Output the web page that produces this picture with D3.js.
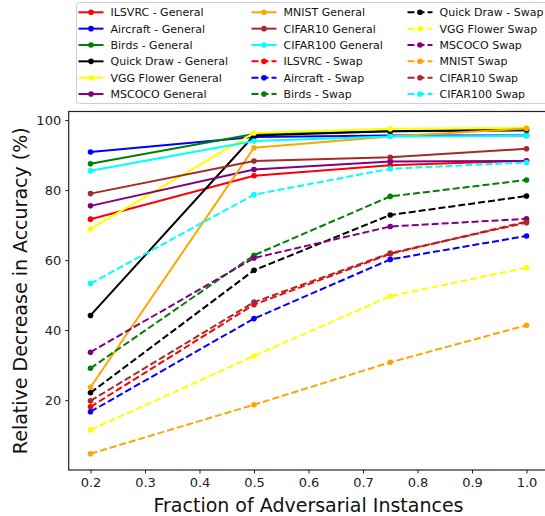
<!DOCTYPE html>
<html>
<head>
<meta charset="utf-8">
<script src="https://cdn.jsdelivr.net/npm/d3@7"></script>
<style>
  body { margin: 0; background: #fff; }
  svg { display: block; font-family: "DejaVu Sans", sans-serif; }
</style>
</head>
<body>
<script>
var fractions = [0.2, 0.5, 0.75, 1.0];
var datasets = ["ILSVRC", "Aircraft", "Birds", "Quick Draw", "VGG Flower", "MSCOCO", "MNIST", "CIFAR10", "CIFAR100"];
var colors = ["red", "blue", "green", "black", "yellow", "purple", "orange", "brown", "cyan"];
var generalNames = ["ILSVRC - General", "Aircraft - General", "Birds - General", "Quick Draw - General",
    "VGG Flower General", "MSCOCO General", "MNIST General", "CIFAR10 General", "CIFAR100 General"];
var swapNames = ["ILSVRC - Swap", "Aircraft - Swap", "Birds - Swap", "Quick Draw - Swap",
    "VGG Flower Swap", "MSCOCO Swap", "MNIST Swap", "CIFAR10 Swap", "CIFAR100 Swap"];

var generalValues = [
    [71.7, 84.1, 87.1, 88.4],
    [90.9, 95.2, 95.6, 95.6],
    [87.5, 96.0, 96.8, 97.0],
    [44.2, 95.6, 96.8, 97.3],
    [68.9, 96.3, 97.5, 97.8],
    [75.5, 85.9, 88.2, 88.3],
    [23.7, 92.1, 95.3, 97.6],
    [79.0, 88.3, 89.4, 91.8],
    [85.5, 94.0, 95.3, 95.5]
];
var swapValues = [
    [18.1, 47.3, 61.8, 71.0],
    [16.7, 43.3, 60.2, 66.9],
    [29.1, 61.4, 78.2, 82.9],
    [22.1, 57.1, 72.9, 78.3],
    [11.5, 32.6, 49.7, 57.9],
    [33.7, 60.6, 69.6, 71.8],
    [4.7, 18.7, 30.8, 41.4],
    [19.8, 48.0, 62.0, 70.7],
    [53.3, 78.7, 86.1, 87.9]
];
var xTicks = [0.2, 0.3, 0.4, 0.5, 0.6, 0.7, 0.8, 0.9, 1.0];
var yTicks = [20, 40, 60, 80, 100];

var width = 545, height = 516;
var plot = { left: 68.7, right: 548.3, top: 111.5, bottom: 470 };

var svg = d3.select("body").append("svg")
    .attr("width", width)
    .attr("height", height);

// matplotlib-style 5% margins
var allVals = d3.merge(generalValues.concat(swapValues));
var yMin = d3.min(allVals), yMax = d3.max(allVals);
var yPad = (yMax - yMin) * 0.05;
var xPad = (d3.max(fractions) - d3.min(fractions)) * 0.05;

var x = d3.scaleLinear()
    .domain([d3.min(fractions) - xPad, d3.max(fractions) + xPad])
    .range([plot.left, plot.right]);
var y = d3.scaleLinear()
    .domain([yMin - yPad, yMax + yPad])
    .range([plot.bottom, plot.top]);

var series = [];
datasets.forEach(function(d, i) {
    series.push({ name: generalNames[i], color: colors[i], values: generalValues[i], dashed: false });
});
datasets.forEach(function(d, i) {
    series.push({ name: swapNames[i], color: colors[i], values: swapValues[i], dashed: true });
});

var line = d3.line()
    .x(function(d, i) { return x(fractions[i]); })
    .y(function(d) { return y(d); });

var g = svg.append("g");
series.forEach(function(s) {
    var sg = g.append("g");
    sg.append("path")
        .attr("d", line(s.values))
        .attr("fill", "none")
        .attr("stroke", s.color)
        .attr("stroke-width", 2)
        .attr("stroke-dasharray", s.dashed ? "7,3" : null);
    sg.selectAll("circle")
        .data(s.values)
        .enter()
        .append("circle")
        .attr("cx", function(d, i) { return x(fractions[i]); })
        .attr("cy", function(d) { return y(d); })
        .attr("r", 2.8)
        .attr("fill", s.color);
});

// axes
var xAxis = d3.axisBottom(x).tickValues(xTicks).tickSize(3.5).tickPadding(4)
    .tickFormat(d3.format(".1f"));
var yAxis = d3.axisLeft(y).tickValues(yTicks).tickSize(3.5).tickPadding(4);

var gx = svg.append("g")
    .attr("transform", "translate(0," + plot.bottom + ")")
    .call(xAxis);
var gy = svg.append("g")
    .attr("transform", "translate(" + plot.left + ",0)")
    .call(yAxis);
[gx, gy].forEach(function(a) {
    a.select(".domain").remove();
    a.selectAll("text").attr("font-size", 13).attr("fill", "#222")
        .attr("font-family", "DejaVu Sans");
    a.selectAll("line").attr("stroke", "#222");
});

svg.append("rect")
    .attr("x", plot.left)
    .attr("y", plot.top)
    .attr("width", plot.right - plot.left)
    .attr("height", plot.bottom - plot.top)
    .attr("fill", "none")
    .attr("stroke", "#222")
    .attr("stroke-width", 1.2);

svg.append("text")
    .attr("x", (plot.left + plot.right) / 2)
    .attr("y", 511.5)
    .attr("text-anchor", "middle")
    .attr("font-size", 19)
    .attr("fill", "#111")
    .text("Fraction of Adversarial Instances");

svg.append("text")
    .attr("transform", "translate(27," + ((plot.top + plot.bottom) / 2) + ") rotate(-90)")
    .attr("text-anchor", "middle")
    .attr("font-size", 19)
    .attr("fill", "#111")
    .text("Relative Decrease in Accuracy (%)");

// legend
var legend = svg.append("g");
legend.append("rect")
    .attr("x", 76.5)
    .attr("y", 2.5)
    .attr("width", 490)
    .attr("height", 101)
    .attr("rx", 3)
    .attr("fill", "#fff")
    .attr("fill-opacity", 0.8)
    .attr("stroke", "#d0d0d0");

var colX = [78.5, 251.5, 407.5];
var rowY0 = 12.3, rowStep = 16.35;
series.forEach(function(s, i) {
    var col = Math.floor(i / 6), row = i % 6;
    var lx = colX[col], ly = rowY0 + row * rowStep;
    var item = legend.append("g").attr("transform", "translate(" + lx + "," + ly + ")");
    item.append("line")
        .attr("x1", 0).attr("x2", 25)
        .attr("y1", 0).attr("y2", 0)
        .attr("stroke", s.color)
        .attr("stroke-width", 2)
        .attr("stroke-dasharray", s.dashed ? "7,3" : null);
    item.append("circle")
        .attr("cx", 12.5).attr("cy", 0).attr("r", 2.8)
        .attr("fill", s.color);
    item.append("text")
        .attr("x", 32)
        .attr("y", 0)
        .attr("dy", "0.35em")
        .attr("font-size", 11)
        .attr("fill", "#111")
        .text(s.name);
});
</script>
</body>
</html>
